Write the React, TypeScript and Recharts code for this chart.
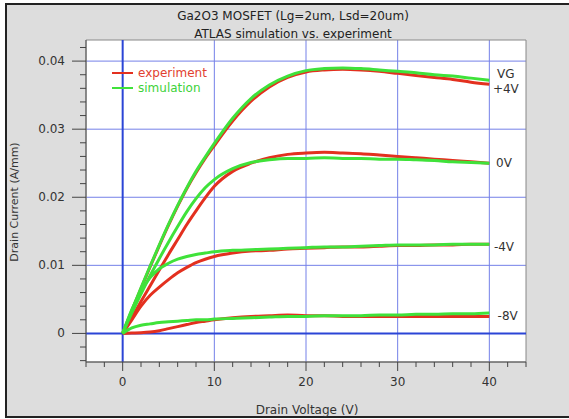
import {
  CartesianGrid,
  Line,
  LineChart,
  ReferenceArea,
  ReferenceDot,
  ReferenceLine,
  XAxis,
  YAxis,
} from 'recharts'

// drain voltage grid (V) shared by all curves
const vds = [0, 1, 2, 3, 4, 5, 6, 7, 8, 9, 10, 12, 14, 16, 18, 20, 22, 24, 26, 28, 30, 32, 34, 36, 38, 40]

// drain current (A/mm), experiment vs. simulation per gate bias
const expP4 = [0, 0.0033, 0.0066, 0.0098, 0.0129, 0.0159, 0.0187, 0.0213, 0.0236, 0.0257, 0.0276, 0.0312, 0.0341, 0.0362, 0.0376, 0.0384, 0.0387, 0.0388, 0.0387, 0.0385, 0.0382, 0.0379, 0.0376, 0.0373, 0.0369, 0.0366]
const simP4 = [0, 0.0034, 0.0067, 0.0099, 0.013, 0.016, 0.0188, 0.0214, 0.0238, 0.0259, 0.0279, 0.0316, 0.0345, 0.0365, 0.0378, 0.0386, 0.0389, 0.039, 0.0389, 0.0387, 0.0385, 0.0383, 0.038, 0.0378, 0.0375, 0.0372]
const exp0 = [0, 0.0023, 0.0047, 0.007, 0.0093, 0.0116, 0.0138, 0.016, 0.018, 0.0199, 0.0216, 0.0238, 0.025, 0.0258, 0.0263, 0.0265, 0.0266, 0.0265, 0.0264, 0.0262, 0.026, 0.0258, 0.0256, 0.0254, 0.0252, 0.025]
const sim0 = [0, 0.003, 0.0058, 0.0085, 0.011, 0.0134, 0.0157, 0.0179, 0.0198, 0.0214, 0.0226, 0.0242, 0.0251, 0.0255, 0.0257, 0.0257, 0.0258, 0.0257, 0.0257, 0.0256, 0.0256, 0.0255, 0.0254, 0.0252, 0.0251, 0.025]
const expM4 = [0, 0.002, 0.004, 0.0056, 0.0068, 0.0079, 0.0089, 0.0097, 0.0104, 0.0109, 0.0113, 0.0118, 0.0121, 0.0122, 0.0124, 0.0125, 0.0126, 0.0127, 0.0127, 0.0128, 0.0129, 0.0129, 0.013, 0.013, 0.0131, 0.0131]
const simM4 = [0, 0.0035, 0.0062, 0.0082, 0.0095, 0.0103, 0.0109, 0.0113, 0.0116, 0.0118, 0.012, 0.0122, 0.0123, 0.0124, 0.0125, 0.0126, 0.0127, 0.0127, 0.0128, 0.0129, 0.013, 0.013, 0.013, 0.0131, 0.0131, 0.0131]
const expM8 = [0, 0.00005, 0.0001, 0.0002, 0.0004, 0.0007, 0.001, 0.0013, 0.0016, 0.0018, 0.002, 0.0023, 0.0025, 0.0026, 0.0027, 0.0026, 0.0026, 0.0025, 0.0025, 0.0025, 0.0025, 0.0025, 0.0025, 0.0025, 0.0025, 0.0025]
const simM8 = [0, 0.0008, 0.0012, 0.0014, 0.0016, 0.0017, 0.0018, 0.0019, 0.002, 0.002, 0.0021, 0.0022, 0.0023, 0.0024, 0.0025, 0.0025, 0.0026, 0.0026, 0.0026, 0.0027, 0.0027, 0.0028, 0.0028, 0.0029, 0.0029, 0.003]

const expCurves = [expP4, exp0, expM4, expM8]
const simCurves = [simP4, sim0, simM4, simM8]

// right-hand gate bias annotations (data coords)
const biasLabels = [
  { text: 'VG', v: 41.8, i: 0.0381 },
  { text: '+4V', v: 41.8, i: 0.036 },
  { text: '0V', v: 41.6, i: 0.025 },
  { text: '-4V', v: 41.6, i: 0.0127 },
  { text: '-8V', v: 42.0, i: 0.0026 },
]

const xTicks = Array.from({ length: 25 }, (_, k) => -4 + 2 * k)
const yTicks = Array.from({ length: 24 }, (_, k) => +(-0.004 + 0.002 * k).toFixed(3))

const RED = '#e3301f'
const GREEN = '#3fe23a'
const FONT = '"DejaVu Sans", sans-serif'

const rows = (vals: number[]) => vds.map((v, k) => ({ v, i: vals[k] }))

function XTick({ x, y, payload }: any) {
  const v = payload.value
  const major = v % 10 === 0
  return (
    <g>
      <line x1={x} x2={x} y1={y} y2={y + (major ? 9 : 5)} stroke="#444" />
      {major && (
        <text x={x} y={y + 24} textAnchor="middle" fontSize={12} fill="#333" fontFamily={FONT}>
          {v}
        </text>
      )}
    </g>
  )
}

function YTick({ x, y, payload }: any) {
  const v = payload.value
  const major = Math.abs(Math.round(v * 100) - v * 100) < 1e-6
  return (
    <g>
      <line x1={x - (major ? 14 : 6)} x2={x} y1={y} y2={y} stroke="#444" />
      {major && (
        <text x={x - 21} y={y + 4} textAnchor="end" fontSize={12} fill="#333" fontFamily={FONT}>
          {v === 0 ? '0' : v.toFixed(2)}
        </text>
      )}
    </g>
  )
}

export default function App() {
  return (
    <div
      style={{
        position: 'absolute',
        left: 0,
        top: 0,
        width: 569,
        height: 419,
        background: '#fff',
        overflow: 'hidden',
        fontFamily: FONT,
        color: '#333',
      }}
    >
      <div
        style={{
          position: 'absolute',
          left: 5,
          top: 3,
          width: 620,
          height: 411,
          border: '2px solid #222',
          background: '#dddddd',
        }}
      />

      {/* title */}
      <div
        style={{
          position: 'absolute',
          left: 0,
          top: 8,
          width: 586,
          textAlign: 'center',
          fontSize: 12,
          lineHeight: '17.6px',
          color: '#222',
        }}
      >
        Ga2O3 MOSFET (Lg=2um, Lsd=20um)
        <br />
        ATLAS simulation vs. experiment
      </div>

      <div style={{ position: 'absolute', left: 0, top: 0 }}>
        <LineChart width={569} height={419} margin={{ top: 40, right: 43, bottom: 27, left: 0 }}>
          <CartesianGrid
            fill="#fff"
            stroke="#7480e8"
            strokeWidth={1}
            verticalValues={[10, 20, 30, 40]}
            horizontalValues={[0.01, 0.02, 0.03, 0.04]}
          />
          <XAxis
            type="number"
            dataKey="v"
            domain={[-4, 44]}
            ticks={xTicks}
            interval={0}
            allowDataOverflow
            tickLine={false}
            tickSize={0}
            tickMargin={0}
            axisLine={{ stroke: '#555' }}
            tick={<XTick />}
            height={30}
          />
          <YAxis
            type="number"
            domain={[-0.0042, 0.0431]}
            ticks={yTicks}
            interval={0}
            allowDataOverflow
            tickLine={false}
            tickSize={0}
            tickMargin={0}
            axisLine={{ stroke: '#555' }}
            tick={<YTick />}
            width={86}
          />
          <ReferenceLine x={0} stroke="#2b45d6" strokeWidth={2} />
          <ReferenceLine y={0} stroke="#2b45d6" strokeWidth={2} />
          <ReferenceArea x1={-4} x2={44} y1={-0.0042} y2={0.0431} fill="none" stroke="#888" ifOverflow="visible" />

          {expCurves.map((c, k) => (
            <Line
              key={`exp${k}`}
              data={rows(c)}
              dataKey="i"
              type="monotone"
              stroke={RED}
              strokeWidth={3}
              dot={false}
              isAnimationActive={false}
            />
          ))}
          {simCurves.map((c, k) => (
            <Line
              key={`sim${k}`}
              data={rows(c)}
              dataKey="i"
              type="monotone"
              stroke={GREEN}
              strokeWidth={3}
              dot={false}
              isAnimationActive={false}
            />
          ))}

          {biasLabels.map((b) => (
            <ReferenceDot
              key={b.text}
              x={b.v}
              y={b.i}
              r={0}
              fill="none"
              stroke="none"
              label={{ value: b.text, position: 'center', fontSize: 12, fill: '#333', fontFamily: FONT }}
            />
          ))}
        </LineChart>
      </div>

      {/* legend */}
      <svg style={{ position: 'absolute', left: 0, top: 0, pointerEvents: 'none' }} width={569} height={419}>
        <line x1={112} x2={133} y1={73} y2={73} stroke={RED} strokeWidth={2} />
        <text x={138} y={77} fontSize={12} fill="#e2402f" fontFamily={FONT}>
          experiment
        </text>
        <line x1={112} x2={133} y1={88} y2={88} stroke={GREEN} strokeWidth={2} />
        <text x={138} y={92} fontSize={12} fill="#3ed23a" fontFamily={FONT}>
          simulation
        </text>
      </svg>

      {/* axis labels */}
      <div
        style={{
          position: 'absolute',
          left: 307,
          top: 410,
          transform: 'translate(-50%, -50%)',
          fontSize: 12,
          whiteSpace: 'nowrap',
          color: '#333',
        }}
      >
        Drain Voltage (V)
      </div>
      <div
        style={{
          position: 'absolute',
          left: 14,
          top: 202,
          transform: 'translate(-50%, -50%) rotate(-90deg)',
          fontSize: 11,
          whiteSpace: 'nowrap',
          color: '#333',
        }}
      >
        Drain Current (A/mm)
      </div>
    </div>
  )
}
